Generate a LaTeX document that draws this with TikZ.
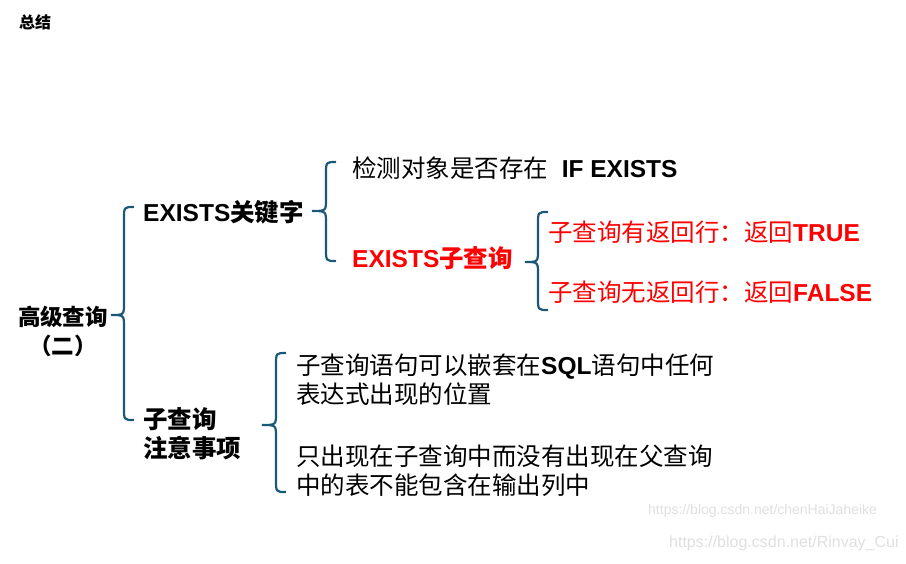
\documentclass[tikz,border=0pt]{standalone}
\usepackage{fontspec}
\setmainfont{Liberation Sans}
\newfontfamily\cjk{Noto Sans CJK SC}
\newcommand{\C}[1]{{\cjk #1}}
\definecolor{brc}{RGB}{26,88,120}
\begin{document}
\begin{tikzpicture}[x=1pt,y=-1pt,
  br/.style={draw=brc, line width=2.2pt},
  t/.style={anchor=west, inner sep=0pt, font=\fontsize{24.5}{29}\selectfont},
  tb/.style={t, font=\fontsize{24.5}{29}\selectfont\bfseries},
  wm/.style={anchor=west, inner sep=0pt, text=black!12, font=\fontsize{14}{16}\selectfont}]
\useasboundingbox[fill=white] (0,0) rectangle (906,563);
\newcommand{\mybrace}[5]{% x, top, mid, bottom, tipx
  \draw[br] (#1+10,#2) .. controls (#1,#2) .. (#1,#2+12) -- (#1,#3-12) .. controls (#1,#3) .. (#5,#3)
    .. controls (#1,#3) .. (#1,#3+12) -- (#1,#4-12) .. controls (#1,#4) .. (#1+10,#4);}
\mybrace{124}{207}{315}{420}{111}
\mybrace{326}{162}{211}{261}{312}
\mybrace{538}{212}{262}{310}{525}
\mybrace{276}{353}{425}{492}{262}
\node (title) [anchor=west,inner sep=0pt,font=\fontsize{16}{18}\selectfont\bfseries] at (19,22) {\C{总结}};
\node (root) [inner sep=0pt,align=center,font=\fontsize{22.5}{29}\selectfont\bfseries] at (63,331) {\C{高级查询}\\\C{（二）}};
\node (ex) [tb] at (143,212) {EXISTS\C{关键字}};
\node (sq) [tb,align=left] at (143,434) {\C{子查询}\\\C{注意事项}};
\node (d1) [t] at (352,168) {\C{检测对象是否存在}\ \ \textbf{IF EXISTS}};
\node (d2) [tb,text=red] at (352,258) {EXISTS\C{子查询}};
\node (r1) [t,text=red] at (548,232) {\C{子查询有返回行：返回}\textbf{TRUE}};
\node (r2) [t,text=red] at (548,292) {\C{子查询无返回行：返回}\textbf{FALSE}};
\node (n1) [t,align=left] at (296,380) {\C{子查询语句可以嵌套在}\textbf{SQL}\C{语句中任何}\\\C{表达式出现的位置}};
\node (n2) [t,align=left] at (296,471) {\C{只出现在子查询中而没有出现在父查询}\\\C{中的表不能包含在输出列中}};
\node (w1) [wm] at (648,511) {https://blog.csdn.net/chenHaiJaheike};
\node (w2) [wm,font=\fontsize{16}{18}\selectfont] at (669,543) {https://blog.csdn.net/Rinvay\_Cui};
\end{tikzpicture}
\end{document}
